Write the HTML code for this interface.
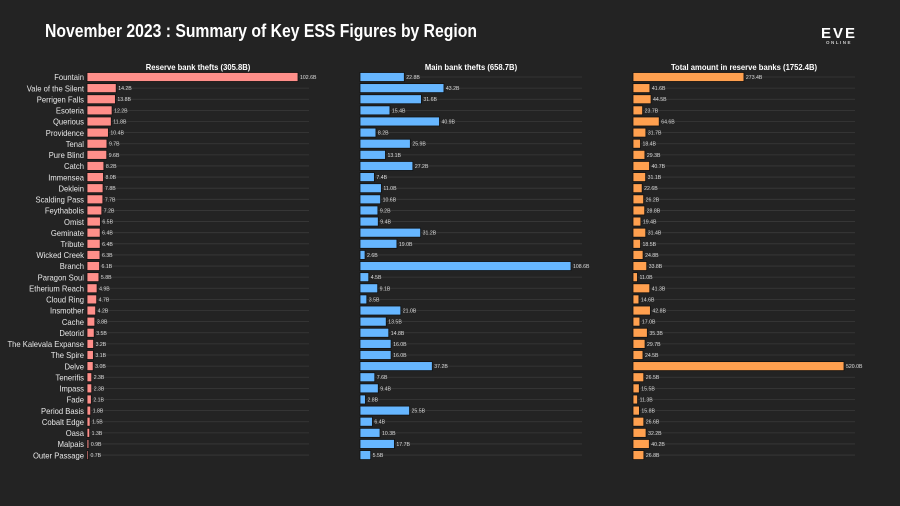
<!DOCTYPE html>
<html><head><meta charset="utf-8"><style>
html,body{margin:0;padding:0;background:#232323;}
svg{display:block;font-family:"Liberation Sans",sans-serif;}
</style></head><body>
<svg id="c" width="900" height="506" viewBox="0 0 900 506">
<rect width="900" height="506" fill="#232323"/>
<text x="45" y="37" fill="#fff" font-size="18" font-weight="bold" textLength="432" lengthAdjust="spacingAndGlyphs">November 2023 : Summary of Key ESS Figures by Region</text>
<g>
<text x="839" y="38" fill="#fff" font-size="15" font-weight="bold" text-anchor="middle" letter-spacing="2">EVE</text>
<text x="839" y="44" fill="#ccc" font-size="4.5" font-weight="bold" text-anchor="middle" letter-spacing="1.5">ONLINE</text>
</g>
<g id="plot"></g>
</svg>
<script>
const regions=["Fountain","Vale of the Silent","Perrigen Falls","Esoteria","Querious","Providence","Tenal","Pure Blind","Catch","Immensea","Deklein","Scalding Pass","Feythabolis","Omist","Geminate","Tribute","Wicked Creek","Branch","Paragon Soul","Etherium Reach","Cloud Ring","Insmother","Cache","Detorid","The Kalevala Expanse","The Spire","Delve","Tenerifis","Impass","Fade","Period Basis","Cobalt Edge","Oasa","Malpais","Outer Passage"];
const reserveThefts=[102.6,14.2,13.8,12.2,11.8,10.4,9.7,9.6,8.2,8.0,7.8,7.7,7.2,6.5,6.4,6.4,6.3,6.1,5.8,4.9,4.7,4.2,3.8,3.5,3.2,3.1,3.0,2.3,2.3,2.1,1.8,1.5,1.3,0.9,0.7];
const mainThefts=[22.8,43.2,31.6,15.4,40.9,8.2,25.9,13.1,27.2,7.4,11.0,10.6,9.2,9.4,31.2,19.0,2.6,108.6,4.5,9.1,3.5,21.0,13.5,14.8,16.0,16.0,37.2,7.6,9.4,2.8,25.5,6.4,10.3,17.7,5.5];
const reserveTotal=[273.4,41.6,44.5,23.7,64.6,31.7,18.4,29.3,40.7,31.1,22.6,26.2,28.8,19.4,31.4,18.5,24.8,33.8,11.0,41.3,14.6,42.8,17.0,35.3,29.7,24.5,520.0,26.5,15.5,11.3,15.8,26.6,32.2,40.2,26.8];
const panelTitles=["Reserve bank thefts (305.8B)","Main bank thefts (658.7B)","Total amount in reserve banks (1752.4B)"];
const NS="http://www.w3.org/2000/svg";
const plot=document.getElementById('plot');
function mk(t,a,p){const e=document.createElementNS(NS,t);for(const k in a)e.setAttribute(k,a[k]);(p||plot).appendChild(e);return e;}
function condense(t,f){const w=t.getComputedTextLength();t.setAttribute('textLength',w*f);t.setAttribute('lengthAdjust','spacingAndGlyphs');}
const y0=77,pitch=11.12,bh=9,W=211,GW=222;
function yPos(i){return y0+i*pitch;}
const panels=[{x:87,data:reserveThefts,color:"#ff8f8a",name:"reserve-thefts"},{x:360,data:mainThefts,color:"#66b6ff",name:"main-thefts"},{x:633,data:reserveTotal,color:"#ffa04f",name:"reserve-total"}];
regions.forEach((r,i)=>{
 const t=mk('text',{x:84,y:yPos(i)+3.2,fill:'#e8e8e8','font-size':8.5,'text-anchor':'end'});
 
 
 t.textContent=r;
 condense(t,0.9);
});
panels.forEach((p,pi)=>{
 const g=mk('g',{});
 
 
 const mx=Math.max(...p.data);
 const sx=v=>v/mx*W;
 const tt=mk('text',{x:p.x+GW/2,y:70,fill:'#fff','font-size':8.5,'font-weight':'bold','text-anchor':'middle'},g);
 
 
 tt.textContent=panelTitles[pi];
 condense(tt,0.9);
 p.data.forEach((v,i)=>{
  const y=yPos(i);
  const gl=mk('line',{x1:p.x,x2:p.x+GW,y1:y,y2:y,stroke:'#3a3a3a','stroke-width':0.8},g);
  
  
  const b=mk('rect',{x:p.x,y:y-bh/2,width:Math.max(sx(v),1),height:bh,fill:p.color,stroke:'#111','stroke-width':0.8},g);
  
  
  const l=mk('text',{x:p.x+sx(v)+2,y:y+2,fill:'#ddd','font-size':5.2},g);
  
  
  l.textContent=v.toFixed(1)+'B';
 });
});
</script>
</body></html>
